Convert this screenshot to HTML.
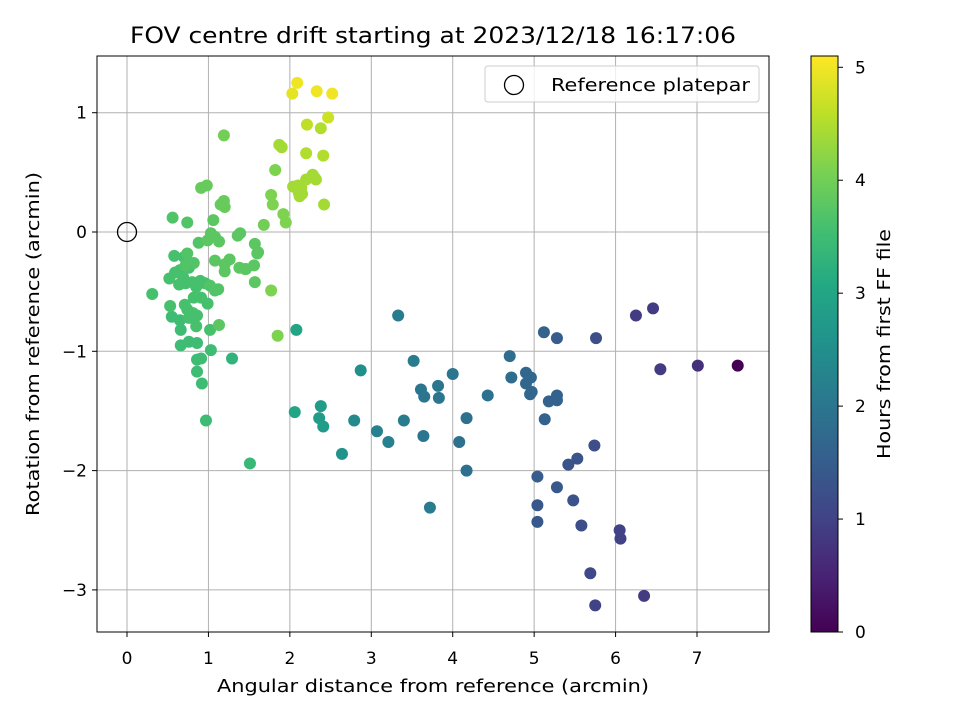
<!DOCTYPE html>
<html><head><meta charset="utf-8"><style>
body{margin:0;background:#fff}
svg text{font-family:"DejaVu Sans","Liberation Sans",sans-serif;fill:#000}
</style></head><body>
<svg id="chart" width="960" height="720" xmlns="http://www.w3.org/2000/svg">
<rect width="960" height="720" fill="#fff"/>
<g id="grid"></g>
<g id="points"></g>
<g id="axes"></g>
<text x="433" y="43" font-size="22" text-anchor="middle" textLength="606" lengthAdjust="spacingAndGlyphs">FOV centre drift starting at 2023/12/18 16:17:06</text>
<text x="433" y="692" font-size="18" text-anchor="middle" textLength="432" lengthAdjust="spacingAndGlyphs">Angular distance from reference (arcmin)</text>
<text transform="translate(39,344) rotate(-90)" font-size="18" text-anchor="middle" textLength="344" lengthAdjust="spacingAndGlyphs">Rotation from reference (arcmin)</text>
<g>
<rect x="485" y="66" width="274" height="36" rx="3" fill="#fff" fill-opacity="0.8" stroke="#ccc"/>
<circle cx="514" cy="85" r="9.5" fill="none" stroke="#000" stroke-width="1.3"/>
<text x="551" y="91" font-size="18" textLength="199" lengthAdjust="spacingAndGlyphs">Reference platepar</text>
</g>
<defs><linearGradient id="vir" x1="0" y1="1" x2="0" y2="0">
<stop offset="0" stop-color="#440154"/><stop offset="0.1" stop-color="#482475"/><stop offset="0.2" stop-color="#414487"/><stop offset="0.3" stop-color="#355f8d"/><stop offset="0.4" stop-color="#2a788e"/><stop offset="0.5" stop-color="#21918c"/><stop offset="0.6" stop-color="#22a884"/><stop offset="0.7" stop-color="#44bf70"/><stop offset="0.8" stop-color="#7ad151"/><stop offset="0.9" stop-color="#bddf26"/><stop offset="1" stop-color="#fde725"/>
</linearGradient></defs>
<g id="cbar">
<rect x="811" y="56" width="27" height="576" fill="url(#vir)" stroke="#000" stroke-width="1"/>
</g>
<text transform="translate(890,344) rotate(-90)" font-size="18" text-anchor="middle" textLength="230" lengthAdjust="spacingAndGlyphs">Hours from first FF file</text>
</svg>
<script>
const xs=[7.50,7.01,6.46,6.25,6.55,6.35,6.05,6.06,5.75,5.69,5.74,5.76,5.58,5.48,5.53,5.42,5.28,5.04,5.04,5.04,5.28,5.12,5.28,5.28,5.18,5.13,4.95,4.97,4.96,4.90,4.90,4.70,4.72,4.43,4.17,4.17,4.08,4.00,3.82,3.83,3.64,3.65,3.61,3.72,3.52,3.40,3.33,3.21,3.07,2.79,2.87,2.64,2.38,2.36,2.41,2.08,2.06,
1.51,1.29,0.97,0.92,0.91,0.86,0.86,1.03,0.86,0.66,0.76,0.66,0.65,0.55,0.76,0.86,0.81,0.71,0.74,0.31,0.53,0.85,1.02,1.13,
0.52,0.59,0.65,0.69,0.76,0.64,0.72,0.80,0.85,0.90,0.96,1.02,1.08,1.12,1.20,0.91,0.99,0.82,0.70,0.58,0.74,0.72,0.82,0.88,0.99,1.03,1.08,1.08,1.06,1.13,1.20,1.26,1.38,1.46,1.39,1.36,1.45,1.57,1.60,1.56,1.57,1.61,0.56,0.74,0.91,0.98,1.17,1.19,1.20,1.15,1.19,1.68,1.77,1.82,1.95,1.92,1.79,1.85,1.77,
1.90,1.87,2.04,2.10,2.12,2.11,2.15,2.14,2.20,2.30,2.32,2.28,2.42,2.20,2.21,2.38,2.41,2.47,2.03,2.09,2.33,2.52];
const ys=[-1.12,-1.12,-0.64,-0.70,-1.15,-3.05,-2.50,-2.57,-3.13,-2.86,-1.79,-0.89,-2.46,-2.25,-1.90,-1.95,-2.14,-2.29,-2.43,-2.05,-0.89,-0.84,-1.37,-1.41,-1.42,-1.57,-1.36,-1.34,-1.22,-1.27,-1.18,-1.04,-1.22,-1.37,-1.56,-2.00,-1.76,-1.19,-1.29,-1.39,-1.71,-1.38,-1.32,-2.31,-1.08,-1.58,-0.70,-1.76,-1.67,-1.58,-1.16,-1.86,-1.46,-1.56,-1.63,-0.82,-1.51,
-1.94,-1.06,-1.58,-1.27,-1.06,-1.07,-1.17,-0.99,-0.93,-0.95,-0.92,-0.82,-0.74,-0.71,-0.72,-0.70,-0.68,-0.61,-0.65,-0.52,-0.62,-0.79,-0.82,-0.78,
-0.39,-0.34,-0.32,-0.38,-0.30,-0.44,-0.43,-0.42,-0.46,-0.41,-0.43,-0.45,-0.49,-0.48,-0.33,-0.55,-0.60,-0.55,-0.21,-0.20,-0.18,-0.28,-0.26,-0.09,-0.07,-0.01,-0.04,-0.24,0.10,-0.08,-0.27,-0.23,-0.30,-0.31,-0.01,-0.03,-0.31,-0.10,-0.18,-0.28,-0.42,-0.17,0.12,0.08,0.37,0.39,0.23,0.26,0.21,0.23,0.81,0.06,0.31,0.52,0.08,0.15,0.23,-0.87,-0.49,
0.71,0.73,0.38,0.39,0.30,0.33,0.32,0.37,0.44,0.46,0.44,0.48,0.23,0.66,0.90,0.87,0.64,0.96,1.16,1.25,1.18,1.16];
const hs=[0.0,0.7,0.9,0.9,0.9,0.9,1.0,1.0,1.0,1.1,1.2,1.2,1.2,1.3,1.3,1.3,1.4,1.4,1.4,1.5,1.5,1.6,1.6,1.6,1.6,1.6,1.7,1.7,1.7,1.7,1.7,1.8,1.8,1.9,1.9,1.9,1.9,2.0,2.0,2.0,2.0,2.0,2.0,2.1,2.1,2.1,2.1,2.2,2.2,2.4,2.5,2.6,2.8,2.8,2.8,3.0,3.0,
3.4,3.3,3.5,3.5,3.5,3.5,3.5,3.5,3.5,3.5,3.5,3.5,3.5,3.5,3.6,3.6,3.6,3.6,3.6,3.6,3.6,3.6,3.6,3.8,
3.6,3.6,3.6,3.6,3.6,3.6,3.6,3.6,3.6,3.6,3.6,3.7,3.7,3.7,3.8,3.6,3.6,3.6,3.6,3.6,3.7,3.7,3.7,3.7,3.8,3.8,3.8,3.8,3.8,3.8,3.8,3.8,3.8,3.8,3.8,3.8,3.8,3.8,3.8,3.8,3.8,3.8,3.7,3.7,3.9,3.9,3.9,3.9,3.9,3.9,4.0,4.0,4.1,4.1,4.1,4.1,4.1,4.1,4.1,
4.4,4.4,4.4,4.4,4.4,4.4,4.4,4.4,4.4,4.4,4.4,4.4,4.4,4.5,4.6,4.5,4.5,4.7,4.9,5.0,5.0,5.0];
const xTicks=[0,1,2,3,4,5,6,7];
const yTicks=[1,0,-1,-2,-3];
const cTicks=[0,1,2,3,4,5];
const L=97,R=769,T=56,B=632;
const X=v=>127+v*81.43, Y=v=>232-v*119.3, C=v=>632-v*(576/5.1);
const NS='http://www.w3.org/2000/svg';
function mk(t,a,p){const e=document.createElementNS(NS,t);for(const k in a)e.setAttribute(k,a[k]);p.appendChild(e);return e;}
const stops=[[68,1,84],[72,36,117],[65,68,135],[53,95,141],[42,120,142],[33,145,140],[34,168,132],[68,191,112],[122,209,81],[189,223,38],[253,231,37]];
function vir(h){let t=Math.max(0,Math.min(1,h/5.1))*(stops.length-1);const i=Math.min(stops.length-2,Math.floor(t)),f=t-i;const c=stops[i].map((v,k)=>Math.round(v+(stops[i+1][k]-v)*f));return `rgb(${c})`;}
const g=document.getElementById('grid'),ax=document.getElementById('axes'),pts=document.getElementById('points'),cb=document.getElementById('cbar');
xTicks.forEach(v=>{const x=X(v);
const l=mk('line',{x1:x,x2:x,y1:T,y2:B,stroke:'#b0b0b0','stroke-width':1},g);
mk('line',{x1:x,x2:x,y1:B,y2:B+5,stroke:'#000'},ax);
const t=mk('text',{x:x,y:B+32,'font-size':17,'text-anchor':'middle'},ax);t.textContent=String(v);});
yTicks.forEach(v=>{const y=Y(v);
const l=mk('line',{x1:L,x2:R,y1:y,y2:y,stroke:'#b0b0b0','stroke-width':1},g);
mk('line',{x1:L-5,x2:L,y1:y,y2:y,stroke:'#000'},ax);
const t=mk('text',{x:L-10,y:y+6,'font-size':17,'text-anchor':'end'},ax);t.textContent=v<0?'\u2212'+(-v):String(v);});
xs.forEach((v,i)=>{const c=mk('circle',{cx:X(v),cy:Y(ys[i]),r:6,fill:vir(hs[i])},pts);});
const ref=mk('circle',{cx:X(0),cy:Y(0),r:9.5,fill:'none',stroke:'#000','stroke-width':1.3},pts);


mk('rect',{x:L,y:T,width:R-L,height:B-T,fill:'none',stroke:'#000','stroke-width':1},ax);
cTicks.forEach(v=>{const y=C(v);mk('line',{x1:838,x2:843,y1:y,y2:y,stroke:'#000'},cb);
const t=mk('text',{x:855,y:y+6,'font-size':17},cb);t.textContent=String(v);});
</script>
</body></html>
